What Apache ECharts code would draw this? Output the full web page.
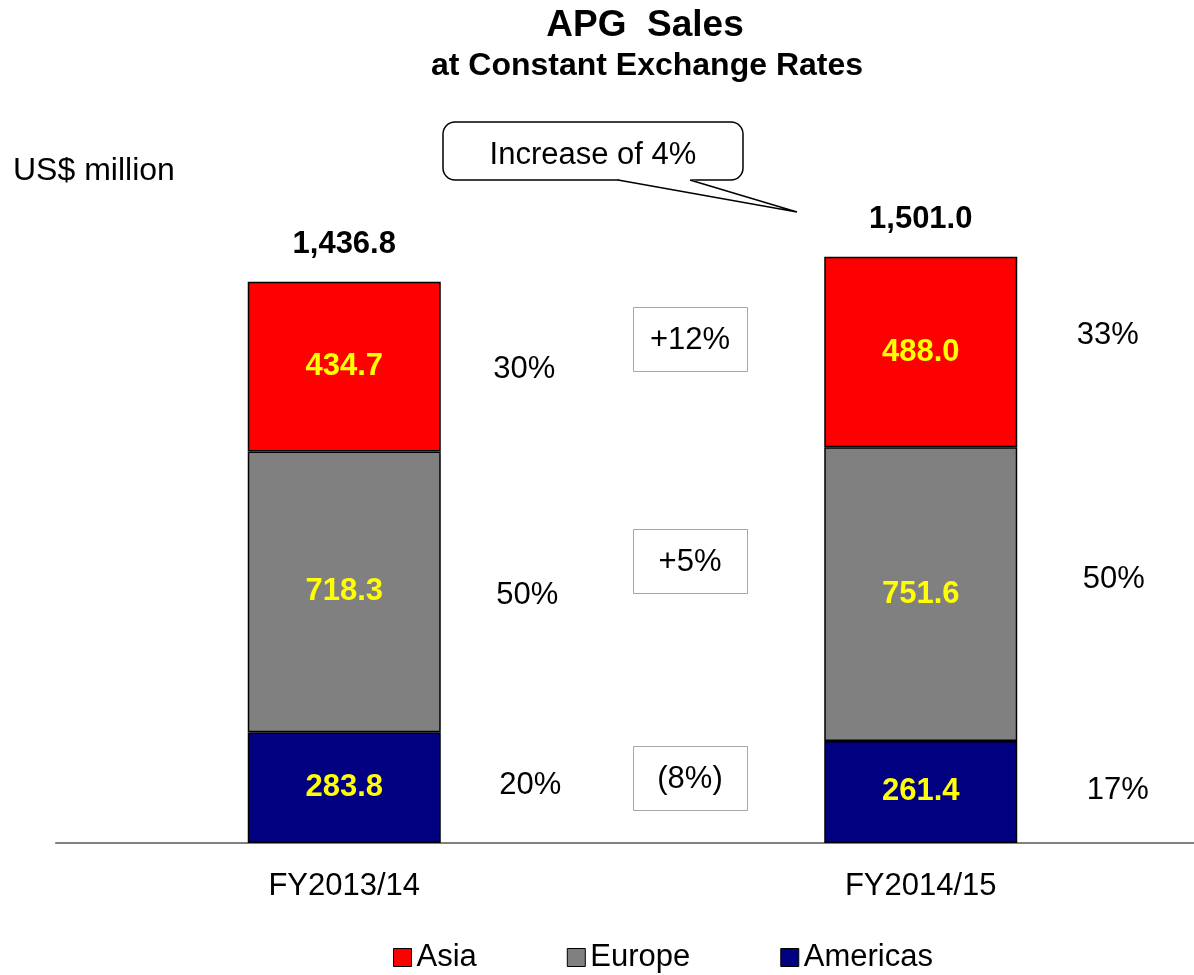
<!DOCTYPE html>
<html>
<head>
<meta charset="utf-8">
<title>APG Sales</title>
<script src="https://cdn.jsdelivr.net/npm/echarts@6/dist/echarts.min.js"></script>
<style>
  html, body { margin: 0; padding: 0; background: #fff; }
  #main { width: 1194px; height: 975px; }
</style>
</head>
<body>
<div id="main"></div>
<script>
const categories = ['FY2013/14', 'FY2014/15']
const asiaSales = [434.7, 488.0]
const europeSales = [718.3, 751.6]
const americasSales = [283.8, 261.4]
const totalLabels = ['1,436.8', '1,501.0']
const asiaShare = ['30%', '33%']
const europeShare = ['50%', '50%']
const americasShare = ['20%', '17%']
// change FY2013/14 -> FY2014/15, Asia / Europe / Americas
const growthLabels = ['+12%', '+5%', '(8%)']
const calloutText = 'Increase of 4%'

const FONT = '"Liberation Sans", Arial, sans-serif'

// stacking order bottom -> top
const segments = [
  { name: 'Americas', values: americasSales, share: americasShare, color: '#000080' },
  { name: 'Europe', values: europeSales, share: europeShare, color: '#808080' },
  { name: 'Asia', values: asiaSales, share: asiaShare, color: '#ff0000' }
]

// share label nudges [dx from category centre, dy from segment middle]
const shareNudge = {
  Americas: [[186, -2], [197, -1]],
  Europe: [[183, 4], [193, -15]],
  Asia: [[180, 3], [187, -17]]
}

const barSeries = segments.map(seg => ({
  name: seg.name,
  type: 'bar',
  stack: 'sales',
  barWidth: 193,
  data: seg.values,
  itemStyle: { color: seg.color, borderColor: '#000', borderWidth: 1.5 },
  label: {
    show: true,
    position: 'inside',
    color: '#ffff00',
    fontFamily: FONT,
    fontSize: 31,
    fontWeight: 'bold',
    formatter: p => p.value.toFixed(1)
  }
}))

// share labels sit at the middle of each segment, pushed right of the bar
const shareData = []
const base = categories.map(() => 0)
segments.forEach(seg => {
  seg.values.forEach((v, i) => {
    shareData.push({
      value: [i, base[i] + v / 2],
      label: { formatter: seg.share[i], offset: shareNudge[seg.name][i] }
    })
    base[i] += v
  })
})

const totalData = categories.map((c, i) => ({
  value: [i, asiaSales[i] + europeSales[i] + americasSales[i]],
  label: { formatter: totalLabels[i] }
}))

const growthBoxes = [
  { y: 307, text: growthLabels[0] },
  { y: 529, text: growthLabels[1] },
  { y: 746, text: growthLabels[2] }
]

const chart = echarts.init(document.getElementById('main'))
chart.setOption({
  animation: false,
  backgroundColor: '#fff',
  grid: { left: 56, right: -15, top: 218, bottom: 132, outerBoundsMode: 'none' },
  legend: {
    data: ['Asia', 'Europe', 'Americas'],
    left: 393,
    top: 942,
    padding: 0,
    icon: 'rect',
    itemWidth: 18,
    itemHeight: 18,
    itemGap: 90,
    itemStyle: { borderColor: '#000', borderWidth: 1 },
    textStyle: { color: '#000', fontSize: 31, fontFamily: FONT },
    selectedMode: false
  },
  xAxis: {
    type: 'category',
    data: categories,
    axisLine: { lineStyle: { color: '#808080', width: 2 } },
    axisTick: { show: false },
    axisLabel: { color: '#000', fontSize: 31, fontFamily: FONT, margin: 28 }
  },
  yAxis: {
    type: 'value',
    min: 0,
    max: 1600,
    show: false,
    splitLine: { show: false }
  },
  series: [
    ...barSeries,
    {
      name: 'share',
      type: 'scatter',
      silent: true,
      symbolSize: 1,
      itemStyle: { color: 'transparent', opacity: 1 },
      data: shareData,
      label: {
        show: true,
        position: 'inside',
        color: '#000',
        fontFamily: FONT,
        fontSize: 31
      }
    },
    {
      name: 'total',
      type: 'scatter',
      silent: true,
      symbolSize: 1,
      itemStyle: { color: 'transparent', opacity: 1 },
      data: totalData,
      label: {
        show: true,
        position: 'top',
        distance: 21,
        color: '#000',
        fontFamily: FONT,
        fontSize: 31,
        fontWeight: 'bold'
      }
    }
  ],
  graphic: [
    {
      type: 'text', x: 645, y: 26,
      style: { text: 'APG  Sales', font: 'bold 37px ' + FONT, fill: '#000', align: 'center', verticalAlign: 'middle' }
    },
    {
      type: 'text', x: 647, y: 66,
      style: { text: 'at Constant Exchange Rates', font: 'bold 32px ' + FONT, fill: '#000', align: 'center', verticalAlign: 'middle' }
    },
    {
      type: 'text', x: 13, y: 171,
      style: { text: 'US$ million', font: '32px ' + FONT, fill: '#000', align: 'left', verticalAlign: 'middle' }
    },
    // callout bubble
    {
      type: 'rect',
      shape: { x: 443, y: 122, width: 300, height: 58, r: 12 },
      style: { fill: '#fff', stroke: '#000', lineWidth: 1.5 }
    },
    {
      type: 'polygon',
      shape: { points: [[618, 179], [797, 212], [690, 179]] },
      style: { fill: '#fff', stroke: null }
    },
    {
      type: 'line',
      shape: { x1: 619, y1: 180, x2: 689, y2: 180 },
      style: { stroke: '#fff', lineWidth: 3 }
    },
    {
      type: 'polyline',
      shape: { points: [[618, 180], [797, 212], [690, 180]] },
      style: { stroke: '#000', lineWidth: 1.5, fill: null }
    },
    {
      type: 'text', x: 593, y: 155,
      style: { text: calloutText, font: '31px ' + FONT, fill: '#000', align: 'center', verticalAlign: 'middle' }
    },
    ...growthBoxes.flatMap(b => [
      {
        type: 'rect',
        shape: { x: 633.5, y: b.y + 0.5, width: 114, height: 64 },
        style: { fill: '#fff', stroke: '#a6a6a6', lineWidth: 1 }
      },
      {
        type: 'text', x: 690, y: b.y + 33,
        style: { text: b.text, font: '31px ' + FONT, fill: '#000', align: 'center', verticalAlign: 'middle' }
      }
    ])
  ]
})
</script>
</body>
</html>
